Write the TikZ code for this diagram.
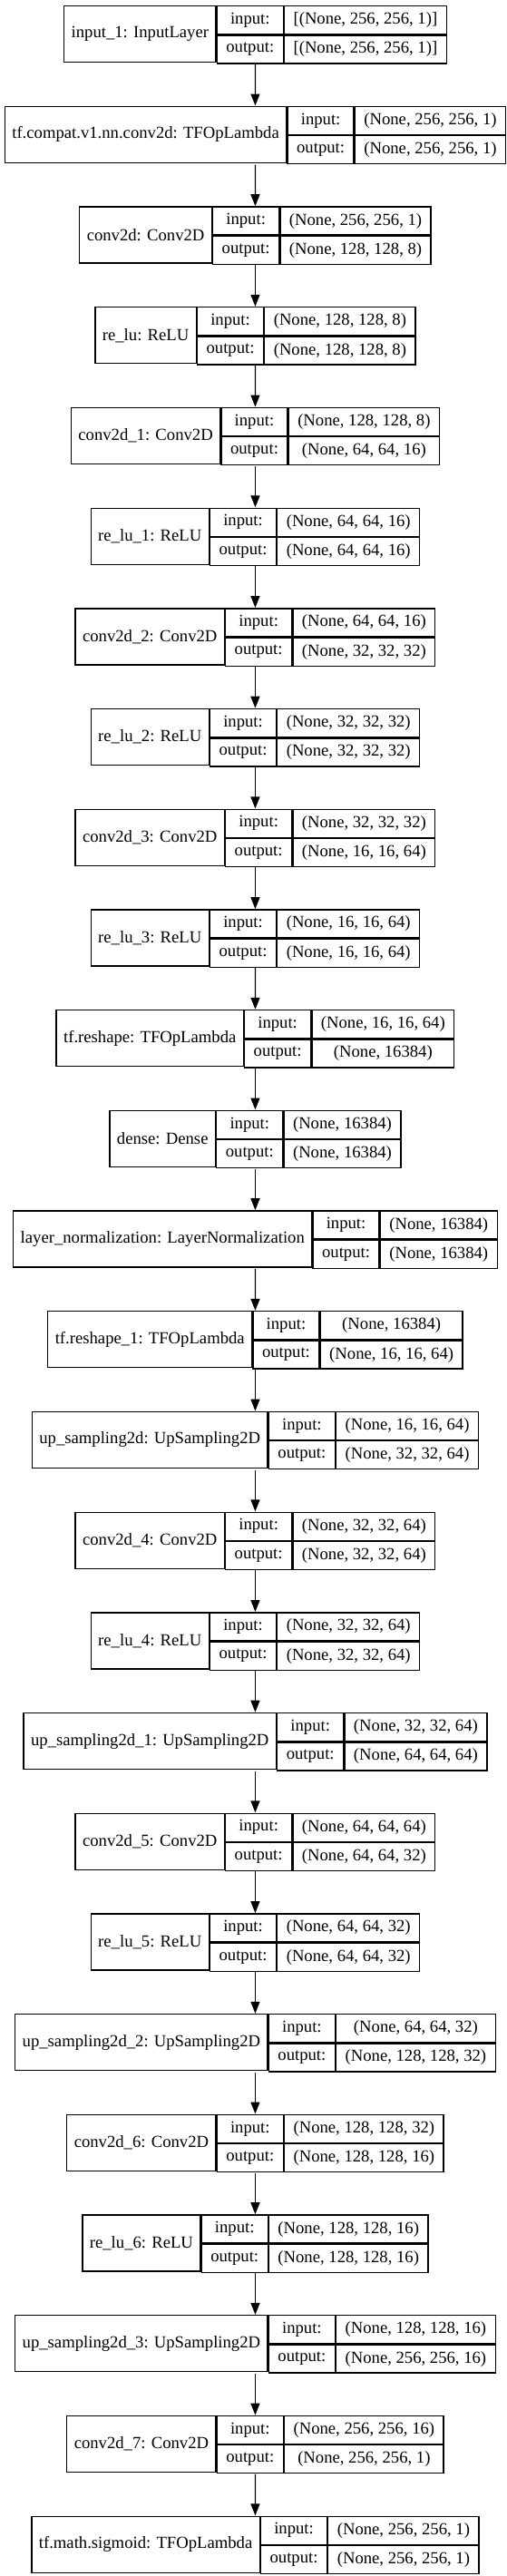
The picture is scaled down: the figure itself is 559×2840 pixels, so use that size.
\documentclass[tikz,border=0pt]{standalone}
\usepackage{fontspec}
\setmainfont{Liberation Serif}
\usetikzlibrary{arrows.meta,fit}
\newdimen\klwa \newdimen\klwb \newdimen\klwc
\newcommand\lfont{\fontsize{18.67}{22}\selectfont}
\tikzset{
  cell/.style={draw=black, line width=1.3pt, inner sep=0pt, font=\lfont, anchor=north west, minimum height=31pt},
  namecell/.style={cell, minimum height=62pt},
  whole/.style={inner sep=0pt},
  flow/.style={line width=1.3pt, -{Triangle[length=13pt,width=10pt]}}
}
\newcommand\keraslayer[5]{%
  \pgfinterruptpicture
  \setbox0=\hbox{\normalfont\lfont #3}\global\klwa=\wd0
  \setbox0=\hbox{\normalfont\lfont #4}\global\klwb=\wd0
  \setbox0=\hbox{\normalfont\lfont #5}\global\klwc=\wd0
  \ifdim\klwc>\klwb \global\klwb=\klwc\fi
  \setbox0=\hbox{\normalfont\lfont output:}\global\klwc=\wd0
  \endpgfinterruptpicture
  \pgfmathsetmacro\knw{\the\klwa+16}%
  \pgfmathsetmacro\klw{\the\klwc+20}%
  \pgfmathsetmacro\kvw{\the\klwb+20}%
  \pgfmathsetmacro\kxl{279.5-(\knw+\klw+\kvw)/2}%
  \pgfmathsetmacro\kyt{-(6+110.7*#2)}%
  \node[namecell, minimum width=\knw pt] (#1n) at (\kxl,\kyt) {#3};
  \node[cell, minimum width=\klw pt] (#1li) at (#1n.north east) {input:};
  \node[cell, minimum width=\klw pt] (#1lo) at (#1li.south west) {output:};
  \node[cell, minimum width=\kvw pt] (#1vi) at (#1li.north east) {#4};
  \node[cell, minimum width=\kvw pt] (#1vo) at (#1lo.north east) {#5};
  \node[whole, fit=(#1n)(#1vo)] (#1) {};
}
\begin{document}
\begin{tikzpicture}[x=1pt,y=1pt]
\fill[white] (0,0) rectangle (559,-2840);
\useasboundingbox (0,0) rectangle (559,-2840);
\keraslayer{La}{0}{input\_1: InputLayer}{[(None, 256, 256, 1)]}{[(None, 256, 256, 1)]}
\keraslayer{Lb}{1}{tf.compat.v1.nn.conv2d: TFOpLambda}{(None, 256, 256, 1)}{(None, 256, 256, 1)}
\keraslayer{Lc}{2}{conv2d: Conv2D}{(None, 256, 256, 1)}{(None, 128, 128, 8)}
\keraslayer{Ld}{3}{re\_lu: ReLU}{(None, 128, 128, 8)}{(None, 128, 128, 8)}
\keraslayer{Le}{4}{conv2d\_1: Conv2D}{(None, 128, 128, 8)}{(None, 64, 64, 16)}
\keraslayer{Lf}{5}{re\_lu\_1: ReLU}{(None, 64, 64, 16)}{(None, 64, 64, 16)}
\keraslayer{Lg}{6}{conv2d\_2: Conv2D}{(None, 64, 64, 16)}{(None, 32, 32, 32)}
\keraslayer{Lh}{7}{re\_lu\_2: ReLU}{(None, 32, 32, 32)}{(None, 32, 32, 32)}
\keraslayer{Li}{8}{conv2d\_3: Conv2D}{(None, 32, 32, 32)}{(None, 16, 16, 64)}
\keraslayer{Lj}{9}{re\_lu\_3: ReLU}{(None, 16, 16, 64)}{(None, 16, 16, 64)}
\keraslayer{Lk}{10}{tf.reshape: TFOpLambda}{(None, 16, 16, 64)}{(None, 16384)}
\keraslayer{Ll}{11}{dense: Dense}{(None, 16384)}{(None, 16384)}
\keraslayer{Lm}{12}{layer\_normalization: LayerNormalization}{(None, 16384)}{(None, 16384)}
\keraslayer{Ln}{13}{tf.reshape\_1: TFOpLambda}{(None, 16384)}{(None, 16, 16, 64)}
\keraslayer{Lo}{14}{up\_sampling2d: UpSampling2D}{(None, 16, 16, 64)}{(None, 32, 32, 64)}
\keraslayer{Lp}{15}{conv2d\_4: Conv2D}{(None, 32, 32, 64)}{(None, 32, 32, 64)}
\keraslayer{Lq}{16}{re\_lu\_4: ReLU}{(None, 32, 32, 64)}{(None, 32, 32, 64)}
\keraslayer{Lr}{17}{up\_sampling2d\_1: UpSampling2D}{(None, 32, 32, 64)}{(None, 64, 64, 64)}
\keraslayer{Ls}{18}{conv2d\_5: Conv2D}{(None, 64, 64, 64)}{(None, 64, 64, 32)}
\keraslayer{Lt}{19}{re\_lu\_5: ReLU}{(None, 64, 64, 32)}{(None, 64, 64, 32)}
\keraslayer{Lu}{20}{up\_sampling2d\_2: UpSampling2D}{(None, 64, 64, 32)}{(None, 128, 128, 32)}
\keraslayer{Lv}{21}{conv2d\_6: Conv2D}{(None, 128, 128, 32)}{(None, 128, 128, 16)}
\keraslayer{Lw}{22}{re\_lu\_6: ReLU}{(None, 128, 128, 16)}{(None, 128, 128, 16)}
\keraslayer{Lx}{23}{up\_sampling2d\_3: UpSampling2D}{(None, 128, 128, 16)}{(None, 256, 256, 16)}
\keraslayer{Ly}{24}{conv2d\_7: Conv2D}{(None, 256, 256, 16)}{(None, 256, 256, 1)}
\keraslayer{Lz}{25}{tf.math.sigmoid: TFOpLambda}{(None, 256, 256, 1)}{(None, 256, 256, 1)}
\foreach \a/\b in {La/Lb,Lb/Lc,Lc/Ld,Ld/Le,Le/Lf,Lf/Lg,Lg/Lh,Lh/Li,Li/Lj,Lj/Lk,Lk/Ll,Ll/Lm,Lm/Ln,Ln/Lo,Lo/Lp,Lp/Lq,Lq/Lr,Lr/Ls,Ls/Lt,Lt/Lu,Lu/Lv,Lv/Lw,Lw/Lx,Lx/Ly,Ly/Lz}
  \draw[flow] (\a.south) -- (\b.north);
\end{tikzpicture}
\end{document}
